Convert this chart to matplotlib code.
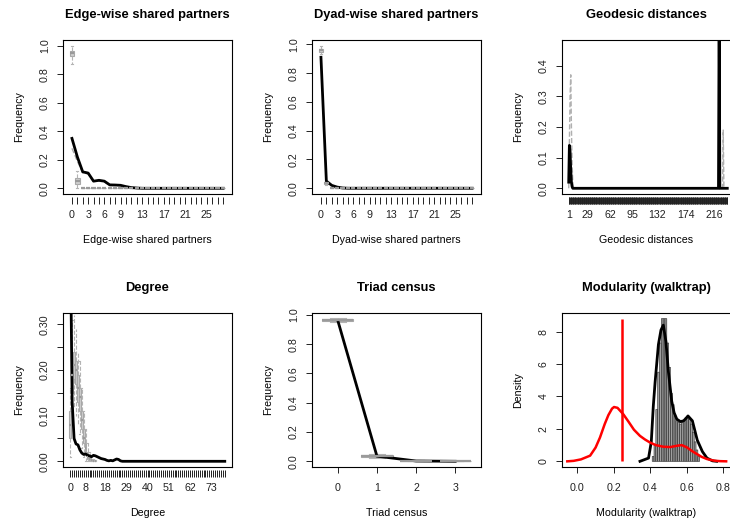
import numpy as np
import matplotlib
matplotlib.use('Agg')
import matplotlib.pyplot as plt
from matplotlib import rcParams
import matplotlib.transforms as mtrans

rcParams['font.family'] = 'sans-serif'
rcParams['font.sans-serif'] = ['Liberation Sans', 'DejaVu Sans']

##---- Edge-wise shared partners (categories 0..28) ----##
esp_obs = [0.35, 0.22, 0.115, 0.107, 0.05, 0.056, 0.05, 0.024, 0.023, 0.021,
           0.012, 0.005, 0.002] + [0.0] * 16
esp_sim = [0.28, 0.19, 0.11, 0.10, 0.05, 0.05, 0.045, 0.02, 0.02, 0.02, 0.01, 0.005]
esp_lo = [0.87, 0.0] + [0.0] * 27
esp_q1 = [0.93, 0.03] + [0.0] * 27
esp_med = [0.95, 0.05] + [0.0] * 27
esp_q3 = [0.965, 0.07] + [0.0] * 27
esp_hi = [1.0, 0.12] + [0.0] * 27
esp_labels = [0, 3, 6, 9, 13, 17, 21, 25]

##---- Dyad-wise shared partners (categories 0..28) ----##
dsp_obs = [0.91, 0.05, 0.02, 0.008, 0.002] + [0.0] * 24
dsp_lo = [0.93, 0.02, 0.0] + [0.0] * 26
dsp_q1 = [0.95, 0.03, 0.0] + [0.0] * 26
dsp_med = [0.96, 0.035, 0.003] + [0.0] * 26
dsp_q3 = [0.97, 0.04, 0.005] + [0.0] * 26
dsp_hi = [0.99, 0.05, 0.01] + [0.0] * 26
dsp_labels = [0, 3, 6, 9, 13, 17, 21, 25]

##---- Geodesic distances (categories 1..235) ----##
geo_n = 235
geo_obs = [0.02, 0.14, 0.12, 0.06, 0.02, 0.005] + [0.0] * 216 + [0.6] + [0.0] * 12
geo_sim = [0.0, 0.15, 0.30, 0.37, 0.20, 0.08, 0.02] + [0.0] * 221 + [0.19] + [0.0] * 6
geo_labels = [1, 29, 62, 95, 132, 174, 216]

##---- Degree (categories 0..80) ----##
deg_obs = [0.52, 0.13, 0.05, 0.038, 0.036, 0.025, 0.018, 0.015, 0.016, 0.013,
           0.012, 0.010, 0.013, 0.012, 0.010, 0.008, 0.006, 0.005, 0.004, 0.002,
           0.001, 0.002, 0.001, 0.003, 0.005, 0.004, 0.001] + [0.0] * 54
deg_lo = [0.01, 0.08, 0.12, 0.10, 0.08, 0.06, 0.03, 0.01, 0.0, 0.0, 0.0, 0.0, 0.0, 0.0]
deg_q1 = [0.05, 0.15, 0.18, 0.17, 0.13, 0.11, 0.07, 0.04, 0.02, 0.005, 0.002, 0.0, 0.0, 0.0]
deg_med = [0.08, 0.19, 0.21, 0.20, 0.16, 0.14, 0.09, 0.05, 0.03, 0.01, 0.005, 0.002, 0.0, 0.0]
deg_q3 = [0.11, 0.23, 0.24, 0.22, 0.19, 0.16, 0.11, 0.07, 0.04, 0.02, 0.01, 0.005, 0.002, 0.001]
deg_hi = [0.16, 0.31, 0.32, 0.29, 0.24, 0.22, 0.16, 0.11, 0.07, 0.04, 0.02, 0.012, 0.006, 0.003]
deg_labels = [0, 8, 18, 29, 40, 51, 62, 73]

##---- Triad census (categories 0..3) ----##
tri_obs = [0.96, 0.035, 0.002, 0.0]
tri_lo = [0.95, 0.025, 0.0, 0.0]
tri_q1 = [0.955, 0.03, 0.0, 0.0]
tri_med = [0.962, 0.036, 0.002, 0.001]
tri_q3 = [0.972, 0.044, 0.004, 0.002]
tri_hi = [0.98, 0.05, 0.006, 0.003]

##---- Modularity (walktrap) ----##
mod_edges = [0.41, 0.42, 0.43, 0.44, 0.45, 0.46, 0.47, 0.48, 0.49, 0.50, 0.51,
             0.52, 0.53, 0.54, 0.55, 0.56, 0.57, 0.58, 0.59, 0.60, 0.61, 0.62,
             0.63, 0.64, 0.65, 0.66, 0.67]
mod_hist = [0.3, 1.0, 3.2, 5.5, 7.3, 8.8, 8.8, 8.8, 7.3, 5.8, 4.2, 3.5, 2.8, 2.5,
            2.4, 2.3, 2.4, 2.5, 2.7, 2.7, 2.6, 2.3, 1.8, 1.2, 0.7, 0.3]
mod_dens_x = [0.343, 0.39, 0.405, 0.416, 0.426, 0.444, 0.458, 0.471, 0.485, 0.499,
              0.517, 0.53, 0.545, 0.565, 0.582, 0.595, 0.606, 0.63, 0.657, 0.685,
              0.71, 0.74, 0.763]
mod_dens_y = [0.0, 0.2, 1.2, 3.4, 4.9, 7.2, 8.1, 8.4, 7.4, 5.5, 3.7, 3.0, 2.6,
              2.45, 2.5, 2.65, 2.8, 2.5, 1.3, 0.6, 0.2, 0.03, 0.0]
mod_red_x = [-0.055, -0.02, 0.02, 0.07, 0.10, 0.124, 0.15, 0.17, 0.19, 0.201,
             0.22, 0.252, 0.28, 0.31, 0.343, 0.37, 0.398, 0.43, 0.471, 0.51,
             0.545, 0.572, 0.60, 0.63, 0.655, 0.68, 0.71, 0.75, 0.783, 0.815]
mod_red_y = [0.0, 0.03, 0.12, 0.35, 0.85, 1.47, 2.3, 2.85, 3.25, 3.35, 3.3, 2.9,
             2.45, 1.95, 1.57, 1.35, 1.16, 1.0, 0.9, 0.88, 0.96, 1.0, 0.86, 0.62,
             0.45, 0.28, 0.14, 0.04, 0.01, 0.0]
mod_obs = 0.245
mod_obs_top = 8.8

##------ Layout (pixel positions of each plot box) ------##
W, H = 730.0, 525.0
fig = plt.figure(figsize=(7.3, 5.25), dpi=100)
FS = 7.7


def make_ax(left, top, width=169, height=154):
    return fig.add_axes([left / W, 1 - (top + height) / H, width / W, height / H])


def style(ax, title, xlabel, ylabel, w=169, gap_ticks=True):
    for sp in ax.spines.values():
        sp.set_linewidth(0.8)
    ax.tick_params(direction='out', length=4, width=0.7, labelsize=FS, colors='#222222')
    ax.tick_params(axis='y', pad=5.5)
    if gap_ticks:
        # R draws these ticks a little below the box -> draw them by hand
        ax.tick_params(axis='x', length=0, pad=11.5)
        tr = mtrans.blended_transform_factory(ax.transData, ax.transAxes)
        ax.vlines(ax.get_xticks(), -3 / 154., -10 / 154., transform=tr,
                  color='#222222', lw=0.7, clip_on=False)
    else:
        ax.tick_params(axis='x', pad=7.5)
    for t in ax.get_yticklabels():
        t.set_rotation(90)
        t.set_va('center')
    cx = 0.5 * 169 / w
    ax.text(cx, 1 + 25 / 154., title, transform=ax.transAxes, ha='center', va='center',
            fontsize=FS * 1.2, fontweight='bold')
    ax.text(cx, -46 / 154., xlabel, transform=ax.transAxes, ha='center', va='center',
            fontsize=FS)
    ax.text(-44 / w, 0.5, ylabel, transform=ax.transAxes, ha='center', va='center',
            fontsize=FS, rotation=90)


def boxes(ax, pos, lo, q1, med, q3, hi, width=0.8):
    stats = []
    for i in range(len(lo)):
        stats.append(dict(whislo=lo[i], q1=q1[i], med=med[i], q3=q3[i], whishi=hi[i]))
    ax.bxp(stats, positions=pos[:len(stats)], widths=width, patch_artist=True,
           showfliers=False, manage_ticks=False,
           boxprops=dict(facecolor='#cfcfcf', edgecolor='#a8a8a8', linewidth=0.8),
           whiskerprops=dict(color='#b4b4b4', linestyle='--', linewidth=0.8),
           capprops=dict(color='#b4b4b4', linewidth=0.8),
           medianprops=dict(color='#9a9a9a', linewidth=1.6))


def cat_ticks(ax, n, start, labels):
    pos = np.arange(start, start + n)
    ax.set_xticks(pos)
    ax.set_xticklabels([str(p) if p in labels else '' for p in pos])


# ---- 1. Edge-wise shared partners
ax1 = make_ax(63, 40)
x = np.arange(len(esp_obs))
boxes(ax1, x, esp_lo, esp_q1, esp_med, esp_q3, esp_hi)
ax1.plot(x[:len(esp_sim)], esp_sim, color='#aaaaaa', lw=1.0, ls='--')
ax1.plot(x, esp_obs, color='black', lw=2.0)
ax1.set_xlim(-1.66, 29.66)
ax1.set_ylim(-0.04, 1.04)
ax1.set_yticks(np.arange(0, 1.01, 0.2))
ax1.set_yticklabels(['0.0', '0.2', '0.4', '0.6', '0.8', '1.0'])
cat_ticks(ax1, len(esp_obs), 0, esp_labels)
style(ax1, 'Edge-wise shared partners', 'Edge-wise shared partners', 'Frequency')

# ---- 2. Dyad-wise shared partners
ax2 = make_ax(312, 40)
x = np.arange(len(dsp_obs))
boxes(ax2, x, dsp_lo, dsp_q1, dsp_med, dsp_q3, dsp_hi)
ax2.plot(x, dsp_obs, color='black', lw=2.0)
ax2.set_xlim(-1.66, 29.66)
ax2.set_ylim(-0.04, 1.03)
ax2.set_yticks(np.arange(0, 1.01, 0.2))
ax2.set_yticklabels(['0.0', '0.2', '0.4', '0.6', '0.8', '1.0'])
cat_ticks(ax2, len(dsp_obs), 0, dsp_labels)
style(ax2, 'Dyad-wise shared partners', 'Dyad-wise shared partners', 'Frequency')

# ---- 3. Geodesic distances
ax3 = make_ax(562, 40, width=172)
x = np.arange(1, geo_n + 1)
ax3.plot(x, geo_sim, color='#b0b0b0', lw=1.0, ls='--')
ax3.plot(x, geo_obs, color='black', lw=2.0)
ax3.set_xlim(0.5 - 0.04 * geo_n, geo_n + 0.5 + 0.04 * geo_n)
ax3.set_ylim(-0.0186, 0.4836)
ax3.set_yticks([0.0, 0.1, 0.2, 0.3, 0.4])
ax3.set_yticklabels(['0.0', '0.1', '0.2', '0.3', '0.4'])
cat_ticks(ax3, geo_n, 1, geo_labels)
style(ax3, 'Geodesic distances', 'Geodesic distances', 'Frequency', w=172)

# ---- 4. Degree
ax4 = make_ax(63, 313)
x = np.arange(len(deg_obs))
boxes(ax4, x, deg_lo, deg_q1, deg_med, deg_q3, deg_hi)
ax4.plot(x, deg_obs, color='black', lw=2.0)
ax4.set_xlim(-3.74, 83.74)
ax4.set_ylim(-0.0125, 0.325)
ax4.set_yticks([0.0, 0.05, 0.10, 0.15, 0.20, 0.25, 0.30])
ax4.set_yticklabels(['0.00', '', '0.10', '', '0.20', '', '0.30'])
cat_ticks(ax4, len(deg_obs), 0, deg_labels)
style(ax4, 'Degree', 'Degree', 'Frequency')

# ---- 5. Triad census
ax5 = make_ax(312, 313)
x = np.arange(len(tri_obs))
boxes(ax5, x, tri_lo, tri_q1, tri_med, tri_q3, tri_hi)
ax5.plot(x, tri_obs, color='black', lw=2.0)
ax5.set_xlim(-0.66, 3.66)
ax5.set_ylim(-0.039, 1.012)
ax5.set_yticks(np.arange(0, 1.01, 0.2))
ax5.set_yticklabels(['0.0', '0.2', '0.4', '0.6', '0.8', '1.0'])
ax5.set_xticks(x)
style(ax5, 'Triad census', 'Triad census', 'Frequency', gap_ticks=False)

# ---- 6. Modularity (walktrap)
ax6 = make_ax(562, 313, width=172)
ax6.bar(mod_edges[:-1], mod_hist, width=np.diff(mod_edges), align='edge',
        color='#a0a0a0', edgecolor='#222222', linewidth=0.4, snap=False)
ax6.plot(mod_dens_x, mod_dens_y, color='black', lw=2.0)
ax6.plot(mod_red_x, mod_red_y, color='red', lw=1.8)
ax6.vlines(mod_obs, 0, mod_obs_top, color='red', lw=1.8)
ax6.set_xlim(-0.084, 0.858)
ax6.set_ylim(-0.35, 9.15)
ax6.set_xticks([0.0, 0.2, 0.4, 0.6, 0.8])
ax6.set_xticklabels(['0.0', '0.2', '0.4', '0.6', '0.8'])
ax6.set_yticks([0, 2, 4, 6, 8])
style(ax6, 'Modularity (walktrap)', 'Modularity (walktrap)', 'Density', w=172,
      gap_ticks=False)

fig.savefig('out.png', dpi=100)
